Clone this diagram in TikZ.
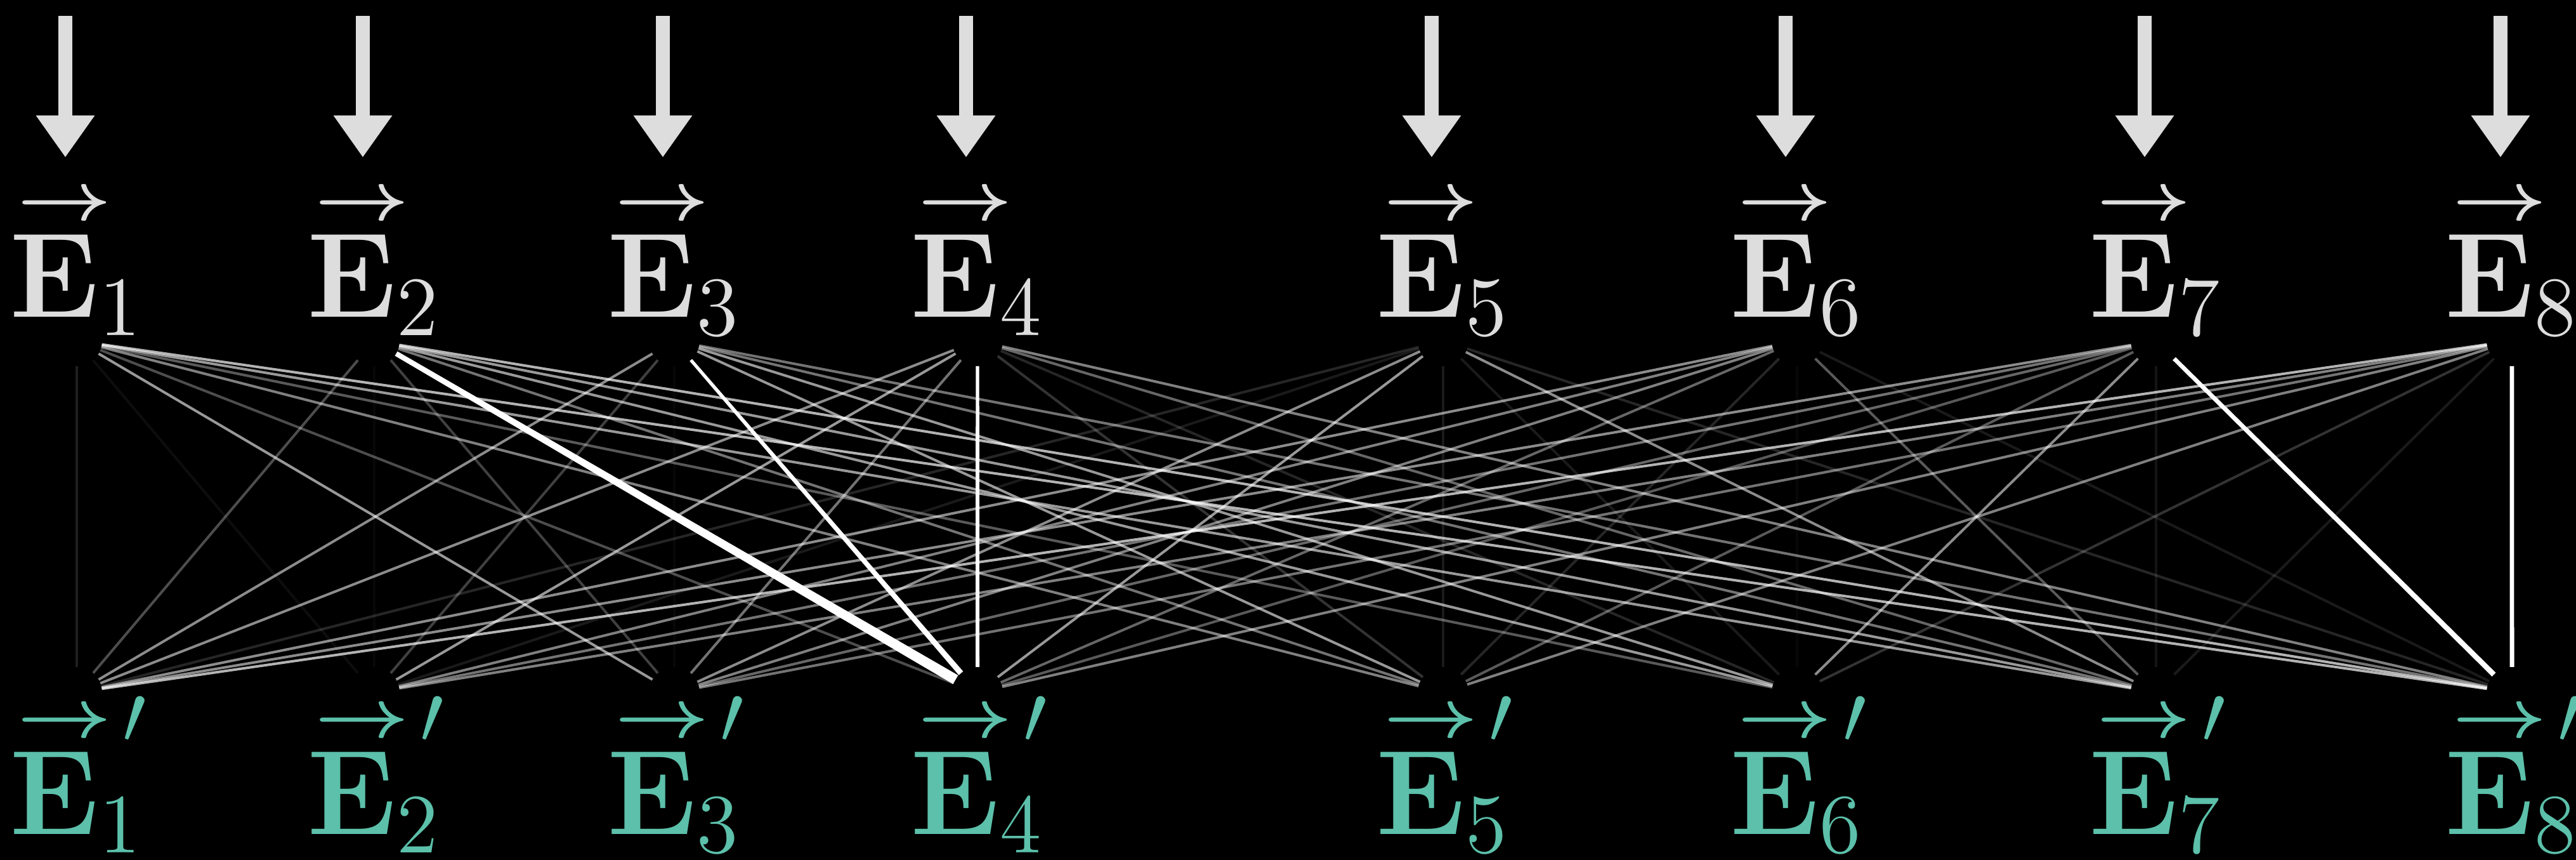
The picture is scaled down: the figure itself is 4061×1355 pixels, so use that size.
\RequirePackage{fix-cm}
\documentclass[tikz,border=0pt]{standalone}
\usepackage{graphicx}
\usetikzlibrary{arrows.meta,calc}
\definecolor{labelgray}{HTML}{DDDDDD}
\definecolor{outteal}{RGB}{92,192,170}
% vector arrow set over a bold E (scaled from the running font size)
\newcommand{\vecbar}{\scalebox{0.68}[0.57]{\boldmath$\rightarrow$}}
\newcommand{\embed}[1]{\rlap{\hspace{1.2pt}\raisebox{15.4pt}{\vecbar}}$\mathbf{E}_{#1}$}
\newcommand{\embedout}[1]{\rlap{\hspace{1.2pt}\raisebox{15.4pt}{\vecbar}}\rlap{\hspace{17.8pt}\raisebox{14.3pt}{$\scriptstyle\prime$}}$\mathbf{E}_{#1}$}
% a link that widens from its top end to its bottom end
\newcommand{\taperlink}[4]{%
  \coordinate (s-#1-#2) at ($(#1)!4pt!(#2)$);
  \coordinate (e-#1-#2) at ($(#2)!4pt!(#1)$);
  \fill[white] ($(s-#1-#2)!#3!90:(#2)$) -- ($(s-#1-#2)!#3!-90:(#2)$)
    -- ($(e-#1-#2)!#4!90:(#1)$) -- ($(e-#1-#2)!#4!-90:(#1)$) -- cycle;}
\begin{document}
\begin{tikzpicture}[x=0.1pt,y=-0.1pt,
  toplabel/.style={anchor=base,text=labelgray,inner sep=0pt,font=\fontsize{19}{20}\selectfont},
  botlabel/.style={anchor=base,text=outteal,inner sep=0pt,font=\fontsize{19}{20}\selectfont},
  link/.style={draw=white,draw opacity=#1,line width=0.4pt,shorten <=4pt,shorten >=4pt},
  inarrow/.style={draw=labelgray,line width=2.2pt,-{Triangle[width=8.8pt,length=6.6pt]}}]
\fill[black] (0,0) rectangle (4061,1355);
\useasboundingbox (0,0) rectangle (4061,1355);

% columns: input embeddings on top, updated embeddings below
\foreach \k/\x in {1/121,2/590,3/1063,4/1541,5/2275,6/2833,7/3399,8/3960}{
  \coordinate (t\k) at (\x,537);
  \coordinate (b\k) at (\x,1091);
  \coordinate (a\k) at (\x-18,25);
  \coordinate (h\k) at (\x-18,248);
  \node[toplabel] (T\k) at (\x,500) {\embed{\k}};
  \node[botlabel] (B\k) at (\x,1315) {\embedout{\k}};
  \draw[inarrow] (a\k) -- (h\k);
}

% attention weights between every pair
\foreach \i/\j/\w in {
  1/1/0.12, 1/2/0.05, 1/3/0.6, 1/4/0.3, 1/5/0.5, 1/6/0.35, 1/7/0.6, 1/8/0.7,
  2/1/0.3, 2/2/0.03, 2/3/0.25, 2/5/0.45, 2/6/0.6, 2/7/0.6, 2/8/0.7,
  3/1/0.55, 3/2/0.25, 3/3/0.03, 3/5/0.6, 3/6/0.6, 3/7/0.45, 3/8/0.45,
  4/1/0.55, 4/2/0.6, 4/3/0.45, 4/5/0.2, 4/6/0.15, 4/7/0.4, 4/8/0.5,
  5/1/0.15, 5/2/0.1, 5/3/0.55, 5/4/0.6, 5/5/0.1, 5/6/0.1, 5/7/0.55, 5/8/0.15,
  6/1/0.55, 6/2/0.5, 6/3/0.5, 6/4/0.4, 6/5/0.15, 6/6/0.03, 6/7/0.35, 6/8/0.1,
  7/1/0.55, 7/2/0.45, 7/3/0.4, 7/4/0.35, 7/5/0.35, 7/6/0.55, 7/7/0.08,
  8/1/0.7, 8/2/0.5, 8/3/0.45, 8/4/0.5, 8/5/0.5, 8/6/0.2, 8/7/0.1}{
  \draw[link=\w] (t\i) -- (b\j);
}

% dominant weights
\taperlink{t2}{b4}{0.4pt}{0.8pt}
\taperlink{t3}{b4}{0.25pt}{0.45pt}
\taperlink{t4}{b4}{0.27pt}{0.3pt}
\taperlink{t7}{b8}{0.33pt}{0.42pt}
\taperlink{t8}{b8}{0.33pt}{0.35pt}
\end{tikzpicture}
\end{document}
